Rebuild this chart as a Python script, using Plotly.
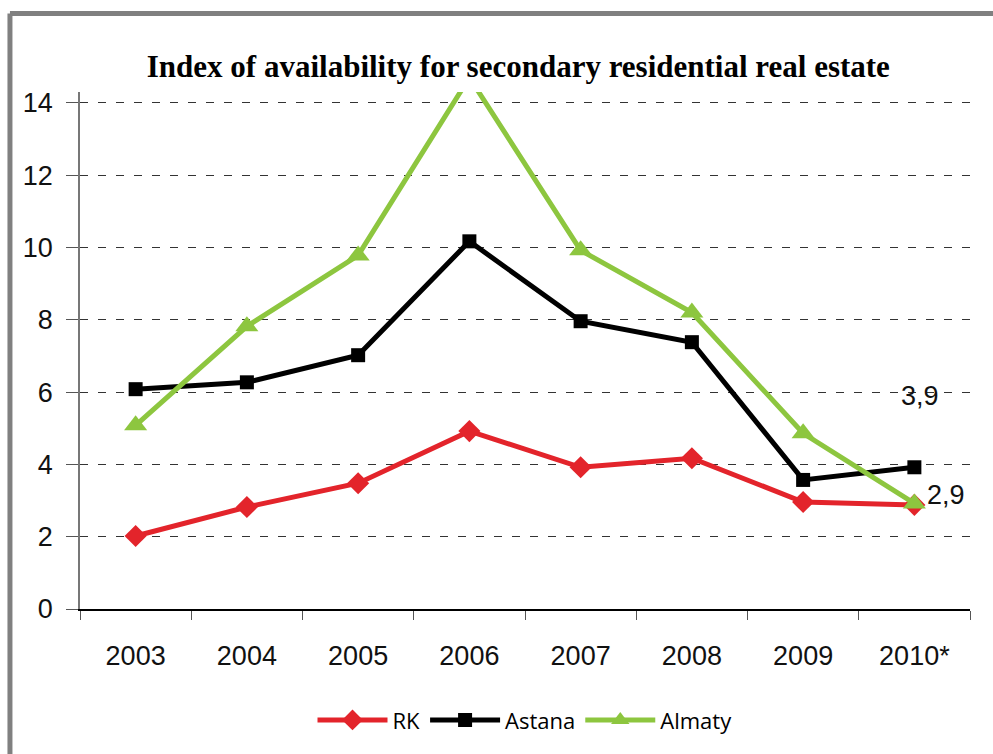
import plotly.graph_objects as go

years = ["2003", "2004", "2005", "2006", "2007", "2008", "2009", "2010*"]
rk = [2.02, 2.82, 3.48, 4.92, 3.92, 4.17, 2.96, 2.88]
astana = [6.08, 6.27, 7.02, 10.17, 7.96, 7.38, 3.57, 3.92]
almaty = [5.08, 7.82, 9.78, 14.7, 9.92, 8.2, 4.86, 2.92]
y_ticks = [0, 2, 4, 6, 8, 10, 12, 14]
label_astana = "3,9"
label_almaty = "2,9"

tick_font = dict(family="Liberation Sans, Arial, sans-serif", size=27, color="#111111")

fig = go.Figure()
fig.add_trace(go.Scatter(x=years, y=rk, name="RK", mode="lines+markers",
                         line=dict(color="#e3242b", width=5),
                         marker=dict(symbol="diamond", size=17, color="#e3242b")))
fig.add_trace(go.Scatter(x=years, y=astana, name="Astana", mode="lines+markers",
                         line=dict(color="#000000", width=5),
                         marker=dict(symbol="square", size=14, color="#000000")))
fig.add_trace(go.Scatter(x=years, y=almaty, name="Almaty", mode="lines+markers",
                         line=dict(color="#8dc63f", width=5),
                         marker=dict(symbol="triangle-up", size=20, color="#8dc63f"),
                         cliponaxis=True))

fig.add_annotation(x=years[-1], y=astana[-1], text=label_astana, showarrow=False,
                   yshift=71, xshift=6, font=tick_font)
fig.add_annotation(x=years[-1], y=almaty[-1], text=label_almaty, showarrow=False,
                   xshift=32, yshift=8, font=tick_font)

# frame lines (gray) on top and left
fig.add_shape(type="line", xref="paper", yref="paper", x0=-0.0787, x1=1.05,
              y0=1.1518, y1=1.1518, line=dict(color="#808080", width=5))
fig.add_shape(type="line", xref="paper", yref="paper", x0=-0.0787, x1=-0.0787,
              y0=1.1518, y1=-0.29, line=dict(color="#808080", width=5))

fig.update_layout(
    width=993, height=754,
    margin=dict(l=80, r=23, t=92, b=145),
    paper_bgcolor="white", plot_bgcolor="white",
    title=dict(text="<b>Index of availability for secondary residential real estate</b>",
               x=0.522, xanchor="center", y=0.912, yanchor="middle",
               font=dict(family="Liberation Serif, DejaVu Serif, serif", size=31, color="#000000")),
    showlegend=True,
    legend=dict(orientation="h", x=0.5, xanchor="center", y=-0.215, yanchor="middle",
                font=dict(family="Open Sans, Liberation Sans, sans-serif", size=22, color="#000000"),
                itemwidth=70, tracegroupgap=0),
    xaxis=dict(type="category", showline=True, linecolor="#000000", linewidth=1.5,
               ticks="outside", tickson="boundaries", ticklen=9, tickcolor="#555555",
               showgrid=False, tickfont=tick_font, ticklabelstandoff=22,
               range=[-0.5, 7.5], fixedrange=True),
    yaxis=dict(range=[0, 14.3], tickvals=y_ticks, showline=True, linecolor="#777777",
               linewidth=1.5, ticks="outside", ticklen=12, tickcolor="#555555",
               showgrid=True, gridcolor="#333333", gridwidth=1, griddash="8px,10px",
               zeroline=False, tickfont=tick_font, ticklabelstandoff=8),
)

fig.write_html("out.html")
